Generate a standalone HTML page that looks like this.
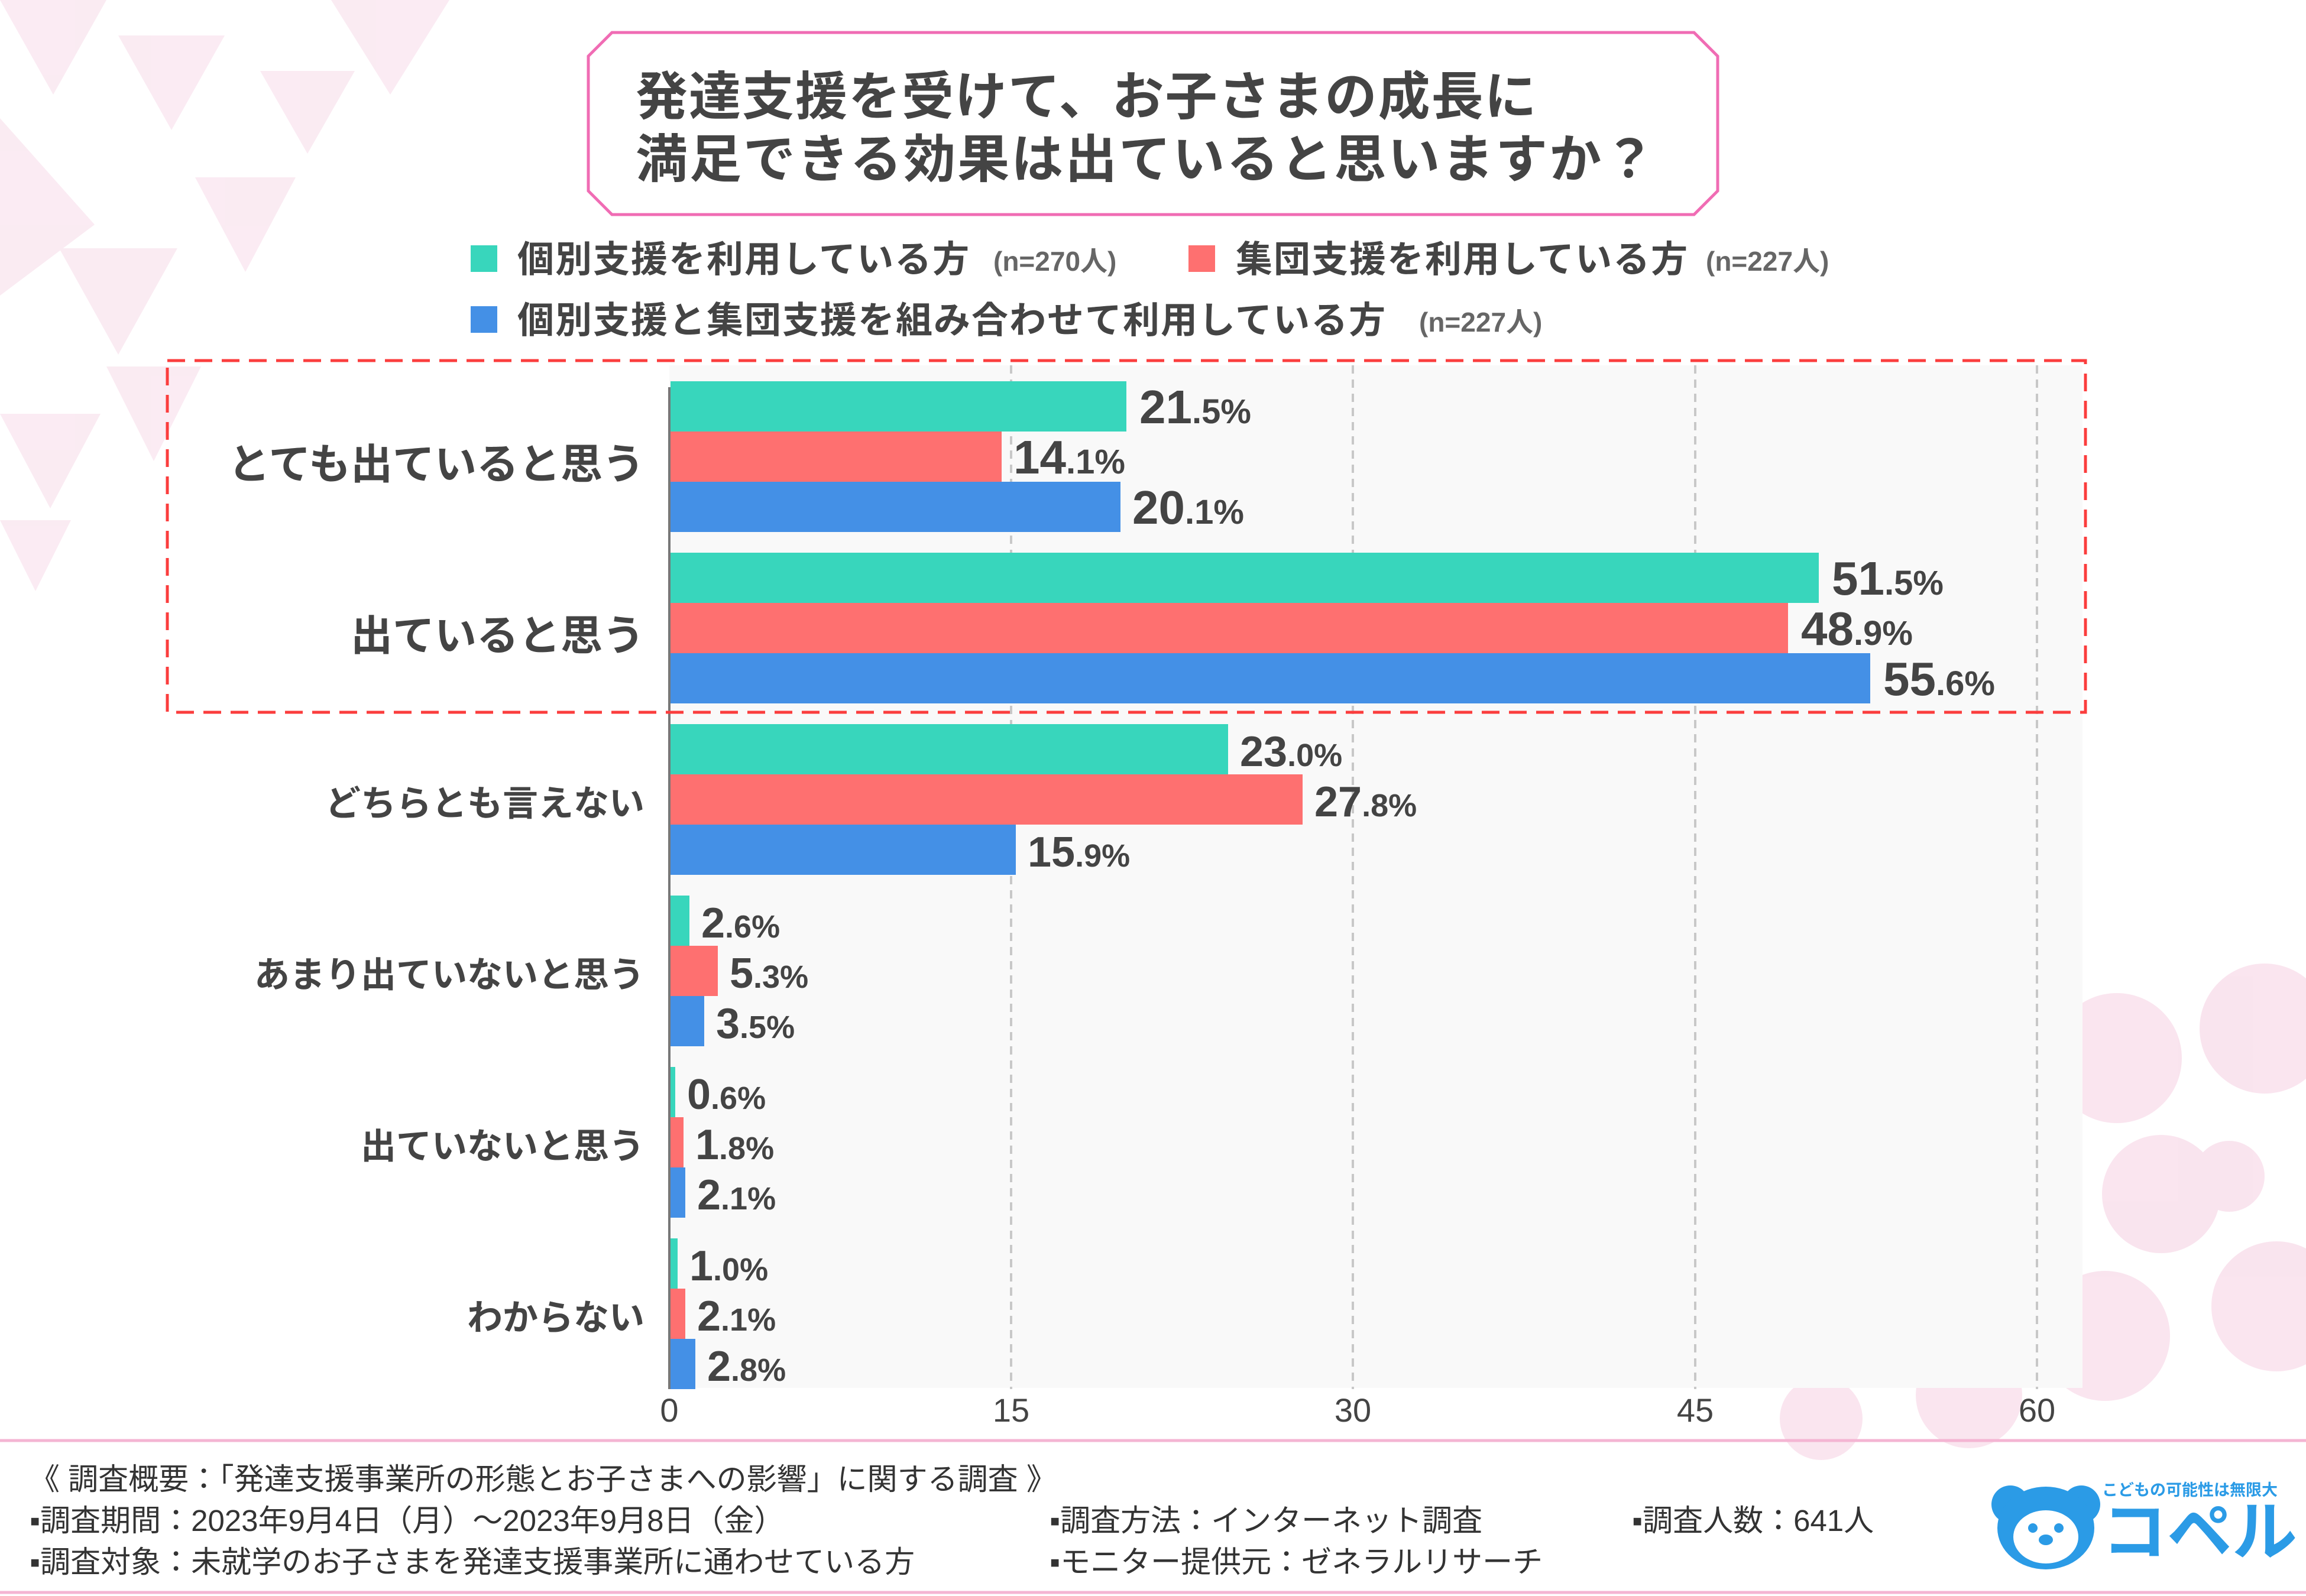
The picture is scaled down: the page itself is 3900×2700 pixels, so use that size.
<!DOCTYPE html>
<html><head><meta charset="utf-8"><style>
html,body{margin:0;padding:0;background:#fff}
svg{display:block}
text{font-family:"Liberation Sans","Noto Sans CJK JP",sans-serif}
.num{font-family:"Liberation Sans Narrow","Liberation Sans",sans-serif}
</style></head><body>
<svg width="3900" height="2700" viewBox="0 0 3900 2700" xmlns="http://www.w3.org/2000/svg">
<rect width="3900" height="2700" fill="#fff"/>
<g fill="#f6d3e4" opacity="0.45">
<polygon points="0,0 180,0 90,160"/><polygon points="200,60 380,60 290,220"/><polygon points="0,200 160,380 0,500"/>
<polygon points="100,420 300,420 200,600"/><polygon points="330,300 500,300 415,460"/><polygon points="0,700 170,700 85,860"/>
<polygon points="180,620 340,620 260,780"/><polygon points="560,0 760,0 660,160"/><polygon points="0,880 120,880 60,1000"/>
<polygon points="440,120 600,120 520,260"/>
</g>
<g fill="#f6d3e4" opacity="0.6">
<circle cx="3580" cy="1790" r="110"/><circle cx="3830" cy="1740" r="110"/><circle cx="3655" cy="2020" r="100"/>
<circle cx="3850" cy="2210" r="110"/><circle cx="3560" cy="2260" r="110"/><circle cx="3330" cy="2360" r="90"/>
<circle cx="3770" cy="1990" r="60"/><circle cx="3080" cy="2400" r="70"/>
</g>
<polygon points="1035,55 2865,55 2905,95 2905,323 2865,363 1035,363 995,323 995,95" fill="#fff" stroke="#f06cb4" stroke-width="5"/>
<text x="1075" y="194" font-size="88" font-weight="bold" fill="#444" letter-spacing="2">発達支援を受けて、お子さまの成長に</text>
<text x="1075" y="300" font-size="88" font-weight="bold" fill="#444" letter-spacing="3">満足できる効果は出ていると思いますか？</text>
<rect x="796" y="415" width="45" height="45" fill="#38d6bc"/>
<text x="875" y="460" font-size="62" font-weight="bold" fill="#444" letter-spacing="2">個別支援を利用している方</text>
<text x="1680" y="458" font-size="46" font-weight="bold" fill="#666">(n=270人)</text>
<rect x="2010" y="415" width="45" height="45" fill="#fe7070"/>
<text x="2090" y="460" font-size="62" font-weight="bold" fill="#444" letter-spacing="2">集団支援を利用している方</text>
<text x="2885" y="458" font-size="46" font-weight="bold" fill="#666">(n=227人)</text>
<rect x="796" y="518" width="45" height="45" fill="#4490e6"/>
<text x="875" y="563" font-size="62" font-weight="bold" fill="#444" letter-spacing="2">個別支援と集団支援を組み合わせて利用している方</text>
<text x="2400" y="561" font-size="46" font-weight="bold" fill="#666">(n=227人)</text>
<rect x="1132" y="618" width="2390" height="1730" fill="#f9f9f9"/>
<g stroke="#c8c8c8" stroke-width="4" stroke-dasharray="14,10">
<line x1="1710" y1="618" x2="1710" y2="2350"/><line x1="2288" y1="618" x2="2288" y2="2350"/>
<line x1="2867" y1="618" x2="2867" y2="2350"/><line x1="3445" y1="618" x2="3445" y2="2350"/>
</g>
<line x1="1132" y1="655" x2="1132" y2="2350" stroke="#777" stroke-width="4"/>
<g font-weight="bold" fill="#444" class="num">
<rect x="1134" y="645" width="771" height="85" fill="#38d6bc"/><rect x="1134" y="730" width="560" height="85" fill="#fe7070"/><rect x="1134" y="815" width="761" height="85" fill="#4490e6"/>
<text class="num" x="1927" y="716" font-size="80">21<tspan font-size="58">.5%</tspan></text>
<text class="num" x="1714" y="801" font-size="80">14<tspan font-size="58">.1%</tspan></text>
<text class="num" x="1915" y="886" font-size="80">20<tspan font-size="58">.1%</tspan></text>
<rect x="1134" y="935" width="1942" height="85" fill="#38d6bc"/><rect x="1134" y="1020" width="1890" height="85" fill="#fe7070"/><rect x="1134" y="1105" width="2029" height="85" fill="#4490e6"/>
<text class="num" x="3098" y="1006" font-size="80">51<tspan font-size="58">.5%</tspan></text>
<text class="num" x="3046" y="1091" font-size="80">48<tspan font-size="58">.9%</tspan></text>
<text class="num" x="3185" y="1176" font-size="80">55<tspan font-size="58">.6%</tspan></text>
<rect x="1134" y="1225" width="943" height="85" fill="#38d6bc"/><rect x="1134" y="1310" width="1069" height="85" fill="#fe7070"/><rect x="1134" y="1395" width="584" height="85" fill="#4490e6"/>
<text class="num" x="2097" y="1296" font-size="72">23<tspan font-size="54">.0%</tspan></text>
<text class="num" x="2223" y="1381" font-size="72">27<tspan font-size="54">.8%</tspan></text>
<text class="num" x="1738" y="1466" font-size="72">15<tspan font-size="54">.9%</tspan></text>
<rect x="1134" y="1515" width="32" height="85" fill="#38d6bc"/><rect x="1134" y="1600" width="80" height="85" fill="#fe7070"/><rect x="1134" y="1685" width="57" height="85" fill="#4490e6"/>
<text class="num" x="1186" y="1586" font-size="72">2<tspan font-size="54">.6%</tspan></text>
<text class="num" x="1234" y="1671" font-size="72">5<tspan font-size="54">.3%</tspan></text>
<text class="num" x="1211" y="1756" font-size="72">3<tspan font-size="54">.5%</tspan></text>
<rect x="1134" y="1805" width="8" height="85" fill="#38d6bc"/><rect x="1134" y="1890" width="22" height="85" fill="#fe7070"/><rect x="1134" y="1975" width="25" height="85" fill="#4490e6"/>
<text class="num" x="1162" y="1876" font-size="72">0<tspan font-size="54">.6%</tspan></text>
<text class="num" x="1176" y="1961" font-size="72">1<tspan font-size="54">.8%</tspan></text>
<text class="num" x="1179" y="2046" font-size="72">2<tspan font-size="54">.1%</tspan></text>
<rect x="1134" y="2095" width="12" height="85" fill="#38d6bc"/><rect x="1134" y="2180" width="25" height="85" fill="#fe7070"/><rect x="1134" y="2265" width="42" height="85" fill="#4490e6"/>
<text class="num" x="1166" y="2166" font-size="72">1<tspan font-size="54">.0%</tspan></text>
<text class="num" x="1179" y="2251" font-size="72">2<tspan font-size="54">.1%</tspan></text>
<text class="num" x="1196" y="2336" font-size="72">2<tspan font-size="54">.8%</tspan></text>
</g>
<g font-weight="bold" fill="#444" text-anchor="end">
<text x="1090" y="810" font-size="71">とても出ていると思う</text>
<text x="1090" y="1100" font-size="71">出ていると思う</text>
<text x="1090" y="1380" font-size="60">どちらとも言えない</text>
<text x="1090" y="1670" font-size="60">あまり出ていないと思う</text>
<text x="1090" y="1960" font-size="60">出ていないと思う</text>
<text x="1090" y="2250" font-size="60">わからない</text>
</g>
<g font-size="56" fill="#444" text-anchor="middle">
<text x="1132" y="2405">0</text><text x="1710" y="2405">15</text><text x="2288" y="2405">30</text><text x="2867" y="2405">45</text><text x="3445" y="2405">60</text>
</g>
<rect x="283" y="610" width="3244" height="595" fill="none" stroke="#fb3d3d" stroke-width="5" stroke-dasharray="30,16"/>
<line x1="0" y1="2437" x2="3900" y2="2437" stroke="#f4b5d3" stroke-width="5"/>
<line x1="0" y1="2694" x2="3900" y2="2694" stroke="#f4b5d3" stroke-width="5"/>
<g font-size="51" fill="#333">
<text x="50" y="2520">《 調査概要：「発達支援事業所の形態とお子さまへの影響」に関する調査 》</text>
<text x="50" y="2590">▪調査期間：2023年9月4日（月）～2023年9月8日（金）</text>
<text x="1775" y="2590">▪調査方法：インターネット調査</text>
<text x="2760" y="2590">▪調査人数：641人</text>
<text x="50" y="2660">▪調査対象：未就学のお子さまを発達支援事業所に通わせている方</text>
<text x="1775" y="2660">▪モニター提供元：ゼネラルリサーチ</text>
</g>
<g>
<circle cx="3400" cy="2545" r="32" fill="#2b9be6"/><circle cx="3520" cy="2545" r="32" fill="#2b9be6"/>
<ellipse cx="3460" cy="2585" rx="82" ry="70" fill="#2b9be6"/>
<ellipse cx="3460" cy="2600" rx="55" ry="45" fill="#fff"/>
<circle cx="3438" cy="2585" r="8" fill="#2b9be6"/><circle cx="3482" cy="2585" r="8" fill="#2b9be6"/>
<ellipse cx="3460" cy="2605" rx="12" ry="9" fill="#2b9be6"/>
<text x="3555" y="2530" font-size="27" font-weight="bold" fill="#2b9be6">こどもの可能性は無限大</text>
<text x="3555" y="2630" font-size="110" font-weight="bold" fill="#2b9be6">コペル</text>
</g>
</svg>
</body></html>
